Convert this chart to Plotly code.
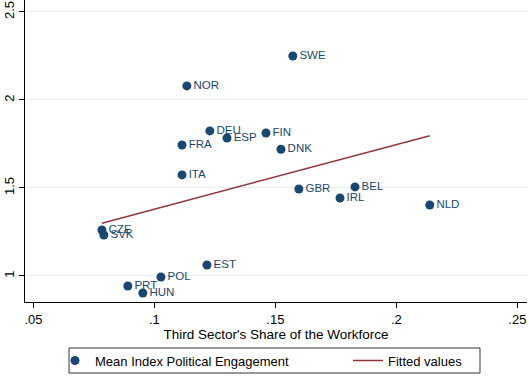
import plotly.graph_objects as go

countries = ["SWE", "NOR", "DEU", "ESP", "FIN", "DNK", "FRA", "ITA", "GBR", "BEL",
             "IRL", "NLD", "CZE", "SVK", "EST", "POL", "PRT", "HUN"]
share = [0.1572, 0.1134, 0.1229, 0.1300, 0.1461, 0.1523, 0.1114, 0.1114, 0.1597, 0.1829,
         0.1767, 0.2138, 0.0783, 0.0791, 0.1217, 0.1027, 0.0890, 0.0952]
engagement = [2.25, 2.08, 1.824, 1.784, 1.8125, 1.72, 1.744, 1.574, 1.494, 1.506,
              1.443, 1.403, 1.261, 1.233, 1.0625, 0.994, 0.943, 0.903]
fit_x = [0.0783, 0.2138]
fit_y = [1.30, 1.797]

x_ticks = [0.05, 0.1, 0.15, 0.2, 0.25]
x_labels = [".05", ".1", ".15", ".2", ".25"]
y_ticks = [1, 1.5, 2, 2.5]
y_labels = ["1", "1.5", "2", "2.5"]

navy = "#1a476f"
maroon = "#90353b"
font = "Liberation Sans, Arial, sans-serif"

fig = go.Figure()
fig.add_trace(go.Scatter(
    x=share, y=engagement, mode="markers+text", text=countries,
    textposition="middle right", textfont=dict(color=navy, size=11.5, family=font),
    marker=dict(color=navy, size=9), name="Mean Index Political Engagement",
    legend="legend"))
fig.add_trace(go.Scatter(
    x=fit_x, y=fit_y, mode="lines", line=dict(color=maroon, width=1.5),
    name="Fitted values", legend="legend2"))

# plot area: x 25..527, y 0..302 px
def px(x):
    return (x - 25) / 502.0

def py(y):
    return (302 - y) / 302.0

fig.add_shape(type="rect", xref="paper", yref="paper",
              x0=px(69), x1=px(480), y0=py(373), y1=py(348),
              line=dict(color="#333333", width=1), fillcolor="rgba(0,0,0,0)")

fig.update_layout(
    width=529, height=377,
    margin=dict(l=25, r=2, t=0, b=75),
    paper_bgcolor="white", plot_bgcolor="white",
    font=dict(family=font, size=12, color="black"),
    showlegend=True,
    legend=dict(orientation="h", x=px(55), xanchor="left", y=py(360.5), yanchor="middle",
                bgcolor="rgba(0,0,0,0)", borderwidth=0, font=dict(size=13)),
    legend2=dict(orientation="h", x=px(348), xanchor="left", y=py(360.5), yanchor="middle",
                 bgcolor="rgba(0,0,0,0)", borderwidth=0, font=dict(size=13)),
    xaxis=dict(range=[0.0465, 0.254], tickvals=x_ticks, ticktext=x_labels,
               showgrid=False, zeroline=False, showline=True, linecolor="black",
               linewidth=1, ticks="outside", ticklen=5, tickcolor="black",
               tickfont=dict(size=13), automargin=False,
               title=dict(text="Third Sector's Share of the Workforce",
                          font=dict(size=13.5), standoff=3)),
    yaxis=dict(range=[0.852, 2.568], tickvals=y_ticks, ticktext=y_labels,
               showgrid=True, gridcolor="#e4edf0", gridwidth=1, zeroline=False,
               showline=True, linecolor="black", linewidth=1, ticks="outside",
               ticklen=5, tickcolor="black", tickangle=-90, automargin=False,
               tickfont=dict(size=13)),
)

fig.write_html("out.html", config={"displayModeBar": False},
               post_script="document.body.style.margin='0';")
